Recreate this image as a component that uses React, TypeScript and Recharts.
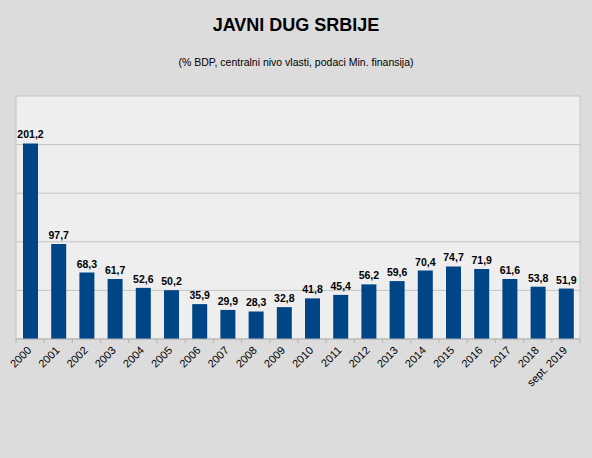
import { BarChart, Bar, XAxis, YAxis, CartesianGrid, LabelList } from 'recharts';

const years = [
    '2000', '2001', '2002', '2003', '2004', '2005', '2006', '2007', '2008', '2009',
    '2010', '2011', '2012', '2013', '2014', '2015', '2016', '2017', '2018', 'sept. 2019',
];
const debt = [
    201.2, 97.7, 68.3, 61.7, 52.6, 50.2, 35.9, 29.9, 28.3, 32.8,
    41.8, 45.4, 56.2, 59.6, 70.4, 74.7, 71.9, 61.6, 53.8, 51.9,
];
const yTicks = [0, 50, 100, 150, 200, 250];

const data = years.map((year, i) => ({ year, value: debt[i] }));

const W = 592;
const H = 458;
const LEFT = 16;
const RIGHT = 12;
const BAND = (W - LEFT - RIGHT) / years.length;
const FONT = '"Liberation Sans", Arial, sans-serif';

const YearTick = (props: any) => {
    const { x, y, payload, index } = props;
    const edge = x - BAND / 2;
    return (
        <g>
            <line x1={edge} y1={y - 8} x2={edge} y2={y - 4} stroke="#b3b3b3" />
            {index === years.length - 1 && (
                <line x1={edge + BAND} y1={y - 8} x2={edge + BAND} y2={y - 4} stroke="#b3b3b3" />
            )}
            <text
                x={x + 2}
                y={y + 4}
                textAnchor="end"
                fontSize={11}
                fontFamily={FONT}
                fill="#000"
                transform={`rotate(-45, ${x + 2}, ${y + 4})`}
            >
                {payload.value}
            </text>
        </g>
    );
};

export default function App() {
    return (
        <div
            style={{
                position: 'fixed',
                top: 0,
                left: 0,
                width: W,
                height: H,
                background: '#dcdcdc',
                fontFamily: FONT,
            }}
        >
            <div
                style={{
                    position: 'absolute',
                    top: 15,
                    width: W,
                    textAlign: 'center',
                    fontSize: 18,
                    fontWeight: 'bold',
                    color: '#000',
                }}
            >
                JAVNI DUG SRBIJE
            </div>
            <div
                style={{
                    position: 'absolute',
                    top: 56,
                    width: W,
                    textAlign: 'center',
                    fontSize: 10.5,
                    color: '#000',
                }}
            >
                (% BDP, centralni nivo vlasti, podaci Min. finansija)
            </div>
            <BarChart
                width={W}
                height={H}
                data={data}
                margin={{ top: 96, left: LEFT, right: RIGHT, bottom: 59 }}
                style={{ position: 'absolute', top: 0, left: 0 }}
            >
                <CartesianGrid
                    fill="#eeeeee"
                    stroke="#c4c4c4"
                    verticalCoordinatesGenerator={({ offset }: any) => [
                        offset.left,
                        offset.left + offset.width,
                    ]}
                />
                <YAxis hide domain={[0, 250]} ticks={yTicks} width={0} />
                <XAxis
                    dataKey="year"
                    interval={0}
                    height={60}
                    axisLine={{ stroke: '#b3b3b3' }}
                    tickLine={false}
                    tick={<YearTick />}
                />
                <Bar dataKey="value" fill="#004586" barSize={15} isAnimationActive={false}>
                    <LabelList
                        dataKey="value"
                        position="top"
                        offset={5}
                        fontSize={10.5}
                        fontWeight="bold"
                        fontFamily={FONT}
                        fill="#000"
                        formatter={(v: any) => String(v).replace('.', ',')}
                    />
                </Bar>
            </BarChart>
        </div>
    );
}
